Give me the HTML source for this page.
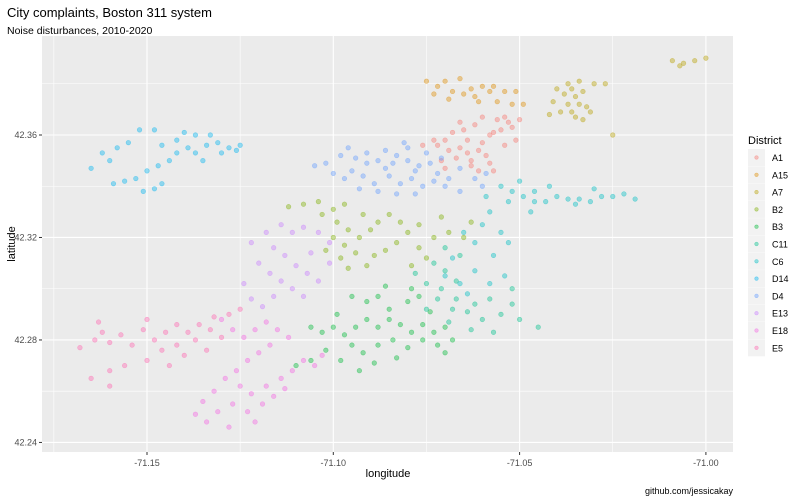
<!DOCTYPE html>
<html><head><meta charset="utf-8">
<style>
body{margin:0;background:#fff;font-family:"Liberation Sans",Arial,sans-serif;}
svg{display:block}
</style></head>
<body>
<svg id="chart" width="800" height="500" viewBox="0 0 800 500" xmlns="http://www.w3.org/2000/svg">
<rect width="800" height="500" fill="#fff"/>
<text x="7" y="17" font-size="13" fill="#000">City complaints, Boston 311 system</text>
<text x="7" y="34" font-size="10.5" fill="#000">Noise disturbances, 2010-2020</text>
<rect id="panel" x="42" y="36" width="691" height="416" fill="#EBEBEB"/>
<g id="grid"></g>
<g id="points"></g>
<g id="axes"></g>
<text x="388" y="477" font-size="11" text-anchor="middle" fill="#000">longitude</text>
<text transform="translate(15,244) rotate(-90)" font-size="11" text-anchor="middle" fill="#000">latitude</text>
<text x="733" y="494" font-size="9" text-anchor="end" fill="#000">github.com/jessicakay</text>
<g id="legend">
<text x="748" y="144" font-size="11" fill="#000">District</text>
</g>
</svg>
<script>
const districts=["A1","A15","A7","B2","B3","C11","C6","D14","D4","E13","E18","E5"];
const colors=["#F8766D","#DE8C00","#B79F00","#7CAE00","#00BA38","#00C08B","#00BFC4","#00B4F0","#619CFF","#C77CFF","#F564E3","#FF64B0"];
const xTicks=[-71.15,-71.10,-71.05,-71.00];
const xTickLabels=["-71.15","-71.10","-71.05","-71.00"];
const yTicks=[42.24,42.28,42.32,42.36];
const yTickLabels=["42.24","42.28","42.32","42.36"];
const xMinor=[-71.175,-71.125,-71.075,-71.025];
const yMinor=[42.26,42.30,42.34,42.38];
const ptsA1=[[-71.060,42.357],[-71.058,42.360],[-71.055,42.362],[-71.053,42.365],[-71.052,42.363],[-71.056,42.366],[-71.062,42.364],[-71.065,42.362],[-71.068,42.361],[-71.070,42.358],[-71.064,42.358],[-71.061,42.354],[-71.066,42.355],[-71.069,42.354],[-71.072,42.356],[-71.059,42.352],[-71.063,42.350],[-71.067,42.351],[-71.071,42.350],[-71.058,42.349],[-71.054,42.356],[-71.051,42.358],[-71.050,42.366],[-71.054,42.367],[-71.060,42.367],[-71.066,42.365],[-71.073,42.358],[-71.076,42.356],[-71.063,42.348],[-71.061,42.346],[-71.057,42.346],[-71.070,42.347],[-71.064,42.353],[-71.057,42.361]];
const ptsA15=[[-71.075,42.381],[-71.070,42.381],[-71.066,42.382],[-71.063,42.378],[-71.060,42.379],[-71.057,42.379],[-71.068,42.377],[-71.073,42.376],[-71.065,42.376],[-71.072,42.379],[-71.062,42.375],[-71.058,42.377],[-71.054,42.377],[-71.051,42.377],[-71.061,42.373],[-71.056,42.373],[-71.052,42.372],[-71.049,42.372],[-71.069,42.374]];
const ptsA7=[[-71.040,42.378],[-71.037,42.380],[-71.034,42.381],[-71.038,42.376],[-71.035,42.375],[-71.033,42.377],[-71.041,42.373],[-71.037,42.372],[-71.034,42.372],[-71.036,42.369],[-71.039,42.369],[-71.032,42.371],[-71.030,42.380],[-71.027,42.380],[-71.035,42.367],[-71.033,42.366],[-71.042,42.368],[-71.031,42.369],[-71.036,42.378],[-71.009,42.389],[-71.007,42.387],[-71.003,42.389],[-71.000,42.390],[-71.006,42.388],[-71.025,42.360]];
const ptsB2=[[-71.112,42.332],[-71.108,42.333],[-71.104,42.334],[-71.100,42.331],[-71.097,42.333],[-71.103,42.329],[-71.099,42.326],[-71.096,42.323],[-71.100,42.320],[-71.097,42.317],[-71.093,42.320],[-71.090,42.323],[-71.088,42.326],[-71.092,42.329],[-71.085,42.329],[-71.082,42.326],[-71.080,42.322],[-71.077,42.325],[-71.083,42.318],[-71.086,42.315],[-71.089,42.313],[-71.094,42.314],[-71.098,42.312],[-71.091,42.309],[-71.077,42.316],[-71.073,42.320],[-71.069,42.322],[-71.065,42.320],[-71.075,42.312],[-71.079,42.309],[-71.096,42.308],[-71.102,42.315],[-71.071,42.328],[-71.063,42.326]];
const ptsB3=[[-71.106,42.285],[-71.103,42.283],[-71.100,42.285],[-71.097,42.282],[-71.094,42.285],[-71.091,42.288],[-71.088,42.285],[-71.085,42.288],[-71.082,42.286],[-71.079,42.283],[-71.076,42.286],[-71.073,42.283],[-71.070,42.285],[-71.091,42.295],[-71.088,42.297],[-71.085,42.292],[-71.080,42.295],[-71.077,42.297],[-71.074,42.291],[-71.099,42.290],[-71.095,42.278],[-71.092,42.275],[-71.088,42.278],[-71.084,42.280],[-71.080,42.277],[-71.076,42.280],[-71.072,42.278],[-71.068,42.280],[-71.098,42.272],[-71.093,42.268],[-71.089,42.271],[-71.110,42.270],[-71.106,42.272],[-71.102,42.276],[-71.083,42.273],[-71.079,42.300],[-71.086,42.301],[-71.095,42.297],[-71.070,42.275]];
const ptsC11=[[-71.070,42.316],[-71.066,42.313],[-71.073,42.310],[-71.070,42.307],[-71.067,42.303],[-71.071,42.300],[-71.067,42.296],[-71.062,42.294],[-71.058,42.296],[-71.064,42.291],[-71.060,42.288],[-71.055,42.290],[-71.052,42.294],[-71.068,42.292],[-71.072,42.296],[-71.075,42.302],[-71.078,42.306],[-71.063,42.284],[-71.057,42.283],[-71.069,42.287],[-71.052,42.300],[-71.050,42.288],[-71.045,42.285],[-71.075,42.292]];
const ptsC6=[[-71.055,42.340],[-71.052,42.338],[-71.049,42.336],[-71.046,42.334],[-71.043,42.334],[-71.040,42.336],[-71.037,42.335],[-71.034,42.335],[-71.031,42.334],[-71.028,42.336],[-71.025,42.336],[-71.022,42.337],[-71.019,42.335],[-71.050,42.342],[-71.046,42.338],[-71.053,42.334],[-71.047,42.330],[-71.035,42.333],[-71.030,42.339],[-71.058,42.330],[-71.060,42.325],[-71.055,42.322],[-71.053,42.318],[-71.057,42.313],[-71.062,42.318],[-71.065,42.322],[-71.068,42.312],[-71.062,42.307],[-71.058,42.302],[-71.054,42.305],[-71.066,42.302],[-71.070,42.305],[-71.064,42.298],[-71.042,42.340],[-71.059,42.336]];
const ptsD14=[[-71.165,42.347],[-71.160,42.350],[-71.162,42.353],[-71.158,42.355],[-71.159,42.341],[-71.156,42.342],[-71.153,42.343],[-71.151,42.338],[-71.148,42.339],[-71.146,42.341],[-71.150,42.346],[-71.147,42.348],[-71.144,42.350],[-71.142,42.353],[-71.139,42.355],[-71.137,42.353],[-71.134,42.356],[-71.131,42.357],[-71.128,42.355],[-71.125,42.356],[-71.133,42.360],[-71.137,42.360],[-71.142,42.358],[-71.146,42.356],[-71.148,42.362],[-71.152,42.362],[-71.140,42.361],[-71.130,42.353],[-71.126,42.354],[-71.135,42.350],[-71.155,42.357]];
const ptsD4=[[-71.105,42.348],[-71.102,42.349],[-71.098,42.352],[-71.094,42.351],[-71.091,42.349],[-71.088,42.350],[-71.086,42.347],[-71.083,42.352],[-71.080,42.350],[-71.077,42.348],[-71.074,42.349],[-71.072,42.345],[-71.069,42.343],[-71.066,42.347],[-71.062,42.343],[-71.059,42.345],[-71.095,42.346],[-71.092,42.344],[-71.089,42.341],[-71.085,42.344],[-71.082,42.341],[-71.079,42.343],[-71.076,42.340],[-71.073,42.342],[-71.078,42.337],[-71.083,42.337],[-71.088,42.338],[-71.070,42.340],[-71.091,42.353],[-71.086,42.354],[-71.080,42.355],[-71.075,42.353],[-71.071,42.351],[-71.097,42.343],[-71.100,42.345],[-71.084,42.349],[-71.078,42.346],[-71.066,42.338],[-71.060,42.340],[-71.093,42.339],[-71.081,42.357],[-71.096,42.355]];
const ptsE13=[[-71.122,42.318],[-71.118,42.322],[-71.114,42.325],[-71.111,42.322],[-71.108,42.324],[-71.104,42.322],[-71.101,42.318],[-71.116,42.316],[-71.113,42.313],[-71.110,42.309],[-71.107,42.306],[-71.104,42.303],[-71.120,42.310],[-71.117,42.306],[-71.114,42.303],[-71.111,42.300],[-71.108,42.297],[-71.124,42.302],[-71.122,42.296],[-71.119,42.293],[-71.116,42.297],[-71.106,42.314],[-71.101,42.310]];
const ptsE18=[[-71.130,42.288],[-71.127,42.284],[-71.124,42.281],[-71.121,42.284],[-71.118,42.287],[-71.115,42.284],[-71.112,42.281],[-71.117,42.278],[-71.120,42.275],[-71.123,42.272],[-71.126,42.268],[-71.129,42.265],[-71.125,42.262],[-71.122,42.259],[-71.118,42.262],[-71.114,42.265],[-71.111,42.268],[-71.108,42.272],[-71.105,42.270],[-71.103,42.274],[-71.132,42.260],[-71.135,42.256],[-71.131,42.252],[-71.127,42.255],[-71.123,42.252],[-71.119,42.255],[-71.134,42.248],[-71.137,42.251],[-71.128,42.246],[-71.121,42.248],[-71.116,42.258],[-71.113,42.261]];
const ptsE5=[[-71.168,42.277],[-71.164,42.280],[-71.162,42.283],[-71.160,42.279],[-71.157,42.282],[-71.154,42.278],[-71.151,42.284],[-71.148,42.280],[-71.145,42.283],[-71.142,42.286],[-71.139,42.283],[-71.136,42.286],[-71.133,42.284],[-71.130,42.281],[-71.137,42.280],[-71.142,42.278],[-71.146,42.276],[-71.150,42.272],[-71.156,42.270],[-71.160,42.268],[-71.165,42.265],[-71.160,42.262],[-71.144,42.270],[-71.140,42.274],[-71.134,42.276],[-71.128,42.290],[-71.125,42.292],[-71.132,42.289],[-71.163,42.287],[-71.150,42.288]];
const series=[ptsA1,ptsA15,ptsA7,ptsB2,ptsB3,ptsC11,ptsC6,ptsD14,ptsD4,ptsE13,ptsE18,ptsE5];

const NS="http://www.w3.org/2000/svg";
const P={l:42,r:733,t:36,b:452};
function xs(v){return 147+(v+71.15)*3726;}
function ys(v){return 135-(v-42.36)*2562;}
function mk(tag,attrs,parent){const e=document.createElementNS(NS,tag);for(const k in attrs)e.setAttribute(k,attrs[k]);parent.appendChild(e);return e;}

const grid=document.getElementById('grid');
xMinor.forEach(v=>{const x=xs(v);if(x>P.l&&x<P.r){const l=mk('line',{x1:x,x2:x,y1:P.t,y2:P.b,stroke:'#fff','stroke-width':0.55},grid);

}});
yMinor.forEach(v=>{const y=ys(v);if(y>P.t&&y<P.b){const l=mk('line',{x1:P.l,x2:P.r,y1:y,y2:y,stroke:'#fff','stroke-width':0.55},grid);

}});
const axes=document.getElementById('axes');
xTicks.forEach((v,i)=>{const x=xs(v);
const l=mk('line',{x1:x,x2:x,y1:P.t,y2:P.b,stroke:'#fff','stroke-width':1.1},grid);


const t=mk('line',{x1:x,x2:x,y1:P.b,y2:P.b+3,stroke:'#333','stroke-width':1},axes);


const tx=mk('text',{x:x,y:P.b+14,'font-size':9,'text-anchor':'middle',fill:'#4D4D4D'},axes);tx.textContent=xTickLabels[i];

});
yTicks.forEach((v,i)=>{const y=ys(v);
const l=mk('line',{x1:P.l,x2:P.r,y1:y,y2:y,stroke:'#fff','stroke-width':1.1},grid);


const t=mk('line',{x1:P.l-3,x2:P.l,y1:y,y2:y,stroke:'#333','stroke-width':1},axes);


const tx=mk('text',{x:P.l-5,y:y+3,'font-size':9,'text-anchor':'end',fill:'#4D4D4D'},axes);tx.textContent=yTickLabels[i];

});

const pts=document.getElementById('points');
series.forEach((arr,si)=>{arr.forEach(p=>{
const c=mk('circle',{cx:xs(p[0]),cy:ys(p[1]),r:2.3,fill:colors[si],'fill-opacity':0.4,stroke:colors[si],'stroke-opacity':0.45,'stroke-width':0.6},pts);

});});

const leg=document.getElementById('legend');
districts.forEach((d,i)=>{const y=149+i*17.3;
const k=mk('rect',{x:748,y:y,width:17,height:17,fill:'#F2F2F2'},leg);


const c=mk('circle',{cx:756.5,cy:y+8.5,r:1.8,fill:colors[i],'fill-opacity':0.4,stroke:colors[i],'stroke-opacity':0.45,'stroke-width':0.6},leg);


const t=mk('text',{x:772,y:y+12,'font-size':9,fill:'#000'},leg);t.textContent=d;

});
</script>
</body></html>
